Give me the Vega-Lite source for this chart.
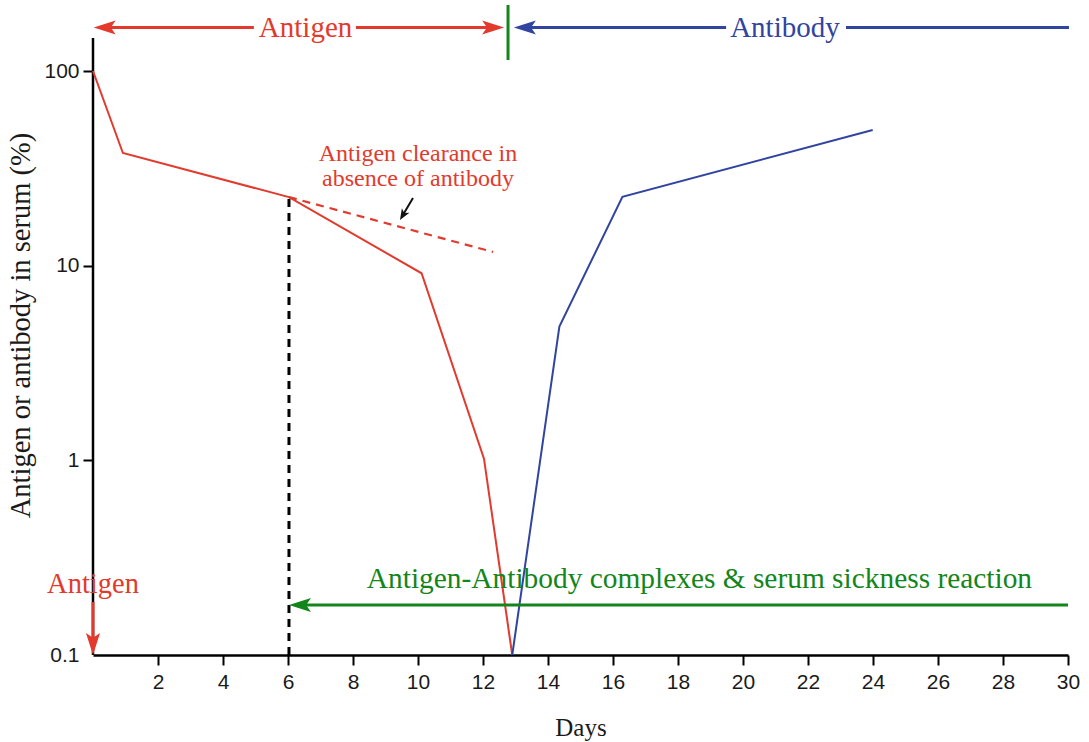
{
  "$schema": "https://vega.github.io/schema/vega-lite/v6.json",
  "width": 975,
  "height": 655,
  "autosize": {"type": "none"},
  "padding": {"left": 93, "top": 0, "right": 21, "bottom": 87},
  "background": "white",
  "config": {"view": {"stroke": null}},
  "datasets": {
    "curves": [
      {"series": "antigen", "day": 0, "pct": 100},
      {"series": "antigen", "day": 0.92, "pct": 37.9},
      {"series": "antigen", "day": 6.03, "pct": 22.5},
      {"series": "antigen", "day": 10.11, "pct": 9.14},
      {"series": "antigen", "day": 12.03, "pct": 1.02},
      {"series": "antigen", "day": 12.9, "pct": 0.1},
      {"series": "antibody", "day": 12.9, "pct": 0.1},
      {"series": "antibody", "day": 14.35, "pct": 4.86},
      {"series": "antibody", "day": 16.29, "pct": 22.6},
      {"series": "antibody", "day": 23.99, "pct": 49.8}
    ],
    "noAntibody": [
      {"day": 6.03, "pct": 22.5},
      {"day": 12.31, "pct": 11.76}
    ],
    "axisLine": [
      {"day": 0, "pct": 0.1, "day2": 0, "pct2": 147.7}
    ],
    "marker": [
      {"day": 6.03, "pct": 0.1, "day2": 6.03, "pct2": 22.5}
    ],
    "segments": [
      {"group": "antigen", "day": 0.45, "pct": 167.3, "day2": 4.95, "pct2": 167.3},
      {"group": "antigen", "day": 8.09, "pct": 167.3, "day2": 12.2, "pct2": 167.3},
      {"group": "antibody", "day": 13.4, "pct": 167.3, "day2": 19.48, "pct2": 167.3},
      {"group": "antibody", "day": 23.17, "pct": 167.3, "day2": 30.03, "pct2": 167.3},
      {"group": "complex", "day": 12.77, "pct": 113.9, "day2": 12.77, "pct2": 218.3},
      {"group": "complex", "day": 6.48, "pct": 0.1806, "day2": 30, "pct2": 0.1806},
      {"group": "antigen", "day": 0, "pct": 0.187, "day2": 0, "pct2": 0.121}
    ],
    "noteArrow": [
      {"day": 9.846, "pct": 22.27, "day2": 9.54, "pct2": 18.25}
    ],
    "heads": [
      {"dir": "left", "group": "antigen", "day": 0.02, "pct": 167.3},
      {"dir": "left", "group": "antibody", "day": 12.95, "pct": 167.3},
      {"dir": "left", "group": "complex", "day": 6.03, "pct": 0.1806},
      {"dir": "right", "group": "antigen", "day": 12.65, "pct": 167.3},
      {"dir": "down", "group": "antigen", "day": 0, "pct": 0.1},
      {"dir": "downleft", "group": "note", "day": 9.446, "pct": 17.16}
    ],
    "labels": [
      {"kind": "heading", "group": "antigen", "label": "Antigen", "day": 6.54, "pct": 149.5},
      {"kind": "heading", "group": "antibody", "label": "Antibody", "day": 21.29, "pct": 149.5},
      {"kind": "corner", "group": "antigen", "label": "Antigen", "day": 0, "pct": 0.2083},
      {"kind": "label", "group": "complex", "label": "Antigen-Antibody complexes & serum sickness reaction", "day": 18.66, "pct": 0.2209},
      {"kind": "note", "group": "antigen", "label": "Antigen clearance in", "day": 10.0, "pct": 34.5},
      {"kind": "note", "group": "antigen", "label": "absence of antibody", "day": 10.0, "pct": 25.7}
    ]
  },
  "encoding": {
    "x": {
      "field": "day",
      "type": "quantitative",
      "scale": {"domain": [0, 30], "nice": false, "zero": false},
      "axis": {
        "values": [2, 4, 6, 8, 10, 12, 14, 16, 18, 20, 22, 24, 26, 28, 30],
        "grid": false,
        "labelFlush": false,
        "labelFont": "Liberation Sans",
        "labelFontSize": 21,
        "labelColor": "#1a1a1a",
        "labelPadding": 6,
        "tickColor": "#000000",
        "tickWidth": 2,
        "tickSize": 10,
        "domainColor": "#000000",
        "domainWidth": 2.5,
        "title": "Days",
        "titleFont": "Liberation Serif",
        "titleFontSize": 25,
        "titleFontWeight": "normal",
        "titleColor": "#1a1a1a",
        "titleY": 80,
        "titleBaseline": "alphabetic"
      }
    },
    "y": {
      "field": "pct",
      "type": "quantitative",
      "scale": {"type": "log", "domain": [0.1, 231.6], "nice": false},
      "axis": {
        "values": [0.1, 1, 10, 100],
        "format": "~g",
        "grid": false,
        "domain": false,
        "labelFlush": false,
        "labelFont": "Liberation Sans",
        "labelFontSize": 21,
        "labelColor": "#1a1a1a",
        "labelPadding": 4,
        "tickColor": "#000000",
        "tickWidth": 2,
        "tickSize": 10,
        "tickOpacity": {"condition": {"test": "datum.value < 0.5", "value": 0}, "value": 1},
        "title": "Antigen or antibody in serum (%)",
        "titleFont": "Liberation Serif",
        "titleFontSize": 28.5,
        "titleFontWeight": "normal",
        "titleColor": "#1a1a1a",
        "titleAngle": 270,
        "titleX": -73,
        "titleY": 325,
        "titleAlign": "center",
        "titleBaseline": "middle"
      }
    }
  },
  "layer": [
    {
      "data": {"name": "axisLine"},
      "mark": {"type": "rule", "color": "#000000", "strokeWidth": 2.5},
      "encoding": {"x2": {"field": "day2"}, "y2": {"field": "pct2"}}
    },
    {
      "data": {"name": "marker"},
      "mark": {"type": "rule", "color": "#000000", "strokeWidth": 3, "strokeDash": [8, 6]},
      "encoding": {"x2": {"field": "day2"}, "y2": {"field": "pct2"}}
    },
    {
      "data": {"name": "noAntibody"},
      "mark": {"type": "line", "color": "#e23a2c", "strokeWidth": 2.2, "strokeDash": [8, 6]},
      "encoding": {}
    },
    {
      "data": {"name": "curves"},
      "mark": {"type": "line", "strokeWidth": 2},
      "encoding": {
        "color": {
          "field": "series",
          "type": "nominal",
          "scale": {"domain": ["antigen", "antibody", "complex", "note"], "range": ["#e23a2c", "#3144a0", "#13851b", "#111111"]},
          "legend": null
        }
      }
    },
    {
      "data": {"name": "segments"},
      "mark": {"type": "rule", "strokeWidth": 3},
      "encoding": {
        "x2": {"field": "day2"},
        "y2": {"field": "pct2"},
        "color": {
          "field": "group",
          "type": "nominal",
          "scale": {"domain": ["antigen", "antibody", "complex", "note"], "range": ["#e23a2c", "#3144a0", "#13851b", "#111111"]},
          "legend": null
        }
      }
    },
    {
      "data": {"name": "noteArrow"},
      "mark": {"type": "rule", "strokeWidth": 2, "color": "#111111"},
      "encoding": {"x2": {"field": "day2"}, "y2": {"field": "pct2"}}
    },
    {
      "data": {"name": "heads"},
      "transform": [{"filter": "datum.dir === 'left'"}],
      "mark": {"type": "point", "filled": true, "opacity": 1, "size": 1936, "angle": 90, "shape": "M0,0L-0.32,-1L0,-0.78L0.32,-1Z"},
      "encoding": {
        "color": {
          "field": "group",
          "type": "nominal",
          "scale": {"domain": ["antigen", "antibody", "complex", "note"], "range": ["#e23a2c", "#3144a0", "#13851b", "#111111"]},
          "legend": null
        }
      }
    },
    {
      "data": {"name": "heads"},
      "transform": [{"filter": "datum.dir === 'right'"}],
      "mark": {"type": "point", "filled": true, "opacity": 1, "size": 1936, "angle": 270, "shape": "M0,0L-0.32,-1L0,-0.78L0.32,-1Z"},
      "encoding": {
        "color": {
          "field": "group",
          "type": "nominal",
          "scale": {"domain": ["antigen", "antibody", "complex", "note"], "range": ["#e23a2c", "#3144a0", "#13851b", "#111111"]},
          "legend": null
        }
      }
    },
    {
      "data": {"name": "heads"},
      "transform": [{"filter": "datum.dir === 'down'"}],
      "mark": {"type": "point", "filled": true, "opacity": 1, "size": 1936, "angle": 0, "shape": "M0,0L-0.32,-1L0,-0.78L0.32,-1Z"},
      "encoding": {
        "color": {
          "field": "group",
          "type": "nominal",
          "scale": {"domain": ["antigen", "antibody", "complex", "note"], "range": ["#e23a2c", "#3144a0", "#13851b", "#111111"]},
          "legend": null
        }
      }
    },
    {
      "data": {"name": "heads"},
      "transform": [{"filter": "datum.dir === 'downleft'"}],
      "mark": {"type": "point", "filled": true, "opacity": 1, "size": 484, "angle": 31, "shape": "M0,0L-0.4,-1L0,-0.75L0.4,-1Z"},
      "encoding": {
        "color": {
          "field": "group",
          "type": "nominal",
          "scale": {"domain": ["antigen", "antibody", "complex", "note"], "range": ["#e23a2c", "#3144a0", "#13851b", "#111111"]},
          "legend": null
        }
      }
    },
    {
      "data": {"name": "labels"},
      "transform": [{"filter": "datum.kind === 'heading'"}],
      "mark": {"type": "text", "font": "Liberation Serif", "fontSize": 29, "align": "center", "baseline": "alphabetic"},
      "encoding": {
        "text": {"field": "label"},
        "color": {
          "field": "group",
          "type": "nominal",
          "scale": {"domain": ["antigen", "antibody", "complex", "note"], "range": ["#e23a2c", "#3144a0", "#13851b", "#111111"]},
          "legend": null
        }
      }
    },
    {
      "data": {"name": "labels"},
      "transform": [{"filter": "datum.kind === 'corner'"}],
      "mark": {"type": "text", "font": "Liberation Serif", "fontSize": 28.5, "align": "center", "baseline": "alphabetic"},
      "encoding": {
        "text": {"field": "label"},
        "color": {
          "field": "group",
          "type": "nominal",
          "scale": {"domain": ["antigen", "antibody", "complex", "note"], "range": ["#e23a2c", "#3144a0", "#13851b", "#111111"]},
          "legend": null
        }
      }
    },
    {
      "data": {"name": "labels"},
      "transform": [{"filter": "datum.kind === 'label'"}],
      "mark": {"type": "text", "font": "Liberation Serif", "fontSize": 29.4, "align": "center", "baseline": "alphabetic"},
      "encoding": {
        "text": {"field": "label"},
        "color": {
          "field": "group",
          "type": "nominal",
          "scale": {"domain": ["antigen", "antibody", "complex", "note"], "range": ["#e23a2c", "#3144a0", "#13851b", "#111111"]},
          "legend": null
        }
      }
    },
    {
      "data": {"name": "labels"},
      "transform": [{"filter": "datum.kind === 'note'"}],
      "mark": {"type": "text", "font": "Liberation Serif", "fontSize": 24, "align": "center", "baseline": "alphabetic"},
      "encoding": {
        "text": {"field": "label"},
        "color": {
          "field": "group",
          "type": "nominal",
          "scale": {"domain": ["antigen", "antibody", "complex", "note"], "range": ["#e23a2c", "#3144a0", "#13851b", "#111111"]},
          "legend": null
        }
      }
    }
  ]
}
